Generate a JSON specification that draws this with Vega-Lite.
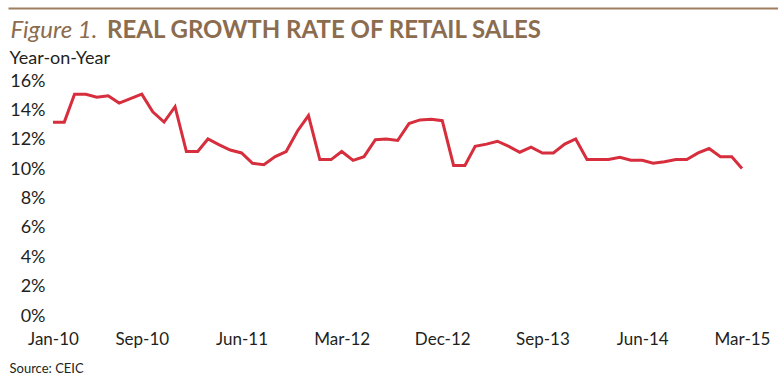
{
  "$schema": "https://vega.github.io/schema/vega-lite/v6.json",
  "width": 770,
  "height": 235,
  "autosize": {"type": "none"},
  "padding": {"left": 8, "top": 81, "right": 0, "bottom": 66},
  "config": {
    "font": "Lato",
    "view": {"stroke": null},
    "axis": {"labelOverlap": false}
  },
  "title": {
    "text": "REAL GROWTH RATE OF RETAIL SALES",
    "anchor": "start",
    "frame": "group",
    "fontSize": 24,
    "fontWeight": "bold",
    "font": "Lato",
    "color": "#8B6C4E",
    "dx": 99,
    "offset": -35
  },
  "datasets": {
    "sales": [
      {"date": "2010-01-01", "value": 13.2},
      {"date": "2010-02-01", "value": 13.2},
      {"date": "2010-03-01", "value": 15.1},
      {"date": "2010-04-01", "value": 15.1},
      {"date": "2010-05-01", "value": 14.9},
      {"date": "2010-06-01", "value": 15.0},
      {"date": "2010-07-01", "value": 14.5},
      {"date": "2010-08-01", "value": 14.8},
      {"date": "2010-09-01", "value": 15.1},
      {"date": "2010-10-01", "value": 13.9},
      {"date": "2010-11-01", "value": 13.2},
      {"date": "2010-12-01", "value": 14.25},
      {"date": "2011-01-01", "value": 11.2},
      {"date": "2011-02-01", "value": 11.2},
      {"date": "2011-03-01", "value": 12.05},
      {"date": "2011-04-01", "value": 11.65},
      {"date": "2011-05-01", "value": 11.3},
      {"date": "2011-06-01", "value": 11.1},
      {"date": "2011-07-01", "value": 10.4},
      {"date": "2011-08-01", "value": 10.3},
      {"date": "2011-09-01", "value": 10.85},
      {"date": "2011-10-01", "value": 11.2},
      {"date": "2011-11-01", "value": 12.6},
      {"date": "2011-12-01", "value": 13.65},
      {"date": "2012-01-01", "value": 10.65},
      {"date": "2012-02-01", "value": 10.65},
      {"date": "2012-03-01", "value": 11.2},
      {"date": "2012-04-01", "value": 10.6},
      {"date": "2012-05-01", "value": 10.85},
      {"date": "2012-06-01", "value": 12.0},
      {"date": "2012-07-01", "value": 12.05},
      {"date": "2012-08-01", "value": 11.95},
      {"date": "2012-09-01", "value": 13.1},
      {"date": "2012-10-01", "value": 13.35},
      {"date": "2012-11-01", "value": 13.4},
      {"date": "2012-12-01", "value": 13.3},
      {"date": "2013-01-01", "value": 10.25},
      {"date": "2013-02-01", "value": 10.25},
      {"date": "2013-03-01", "value": 11.55},
      {"date": "2013-04-01", "value": 11.7},
      {"date": "2013-05-01", "value": 11.9},
      {"date": "2013-06-01", "value": 11.55},
      {"date": "2013-07-01", "value": 11.15},
      {"date": "2013-08-01", "value": 11.5},
      {"date": "2013-09-01", "value": 11.1},
      {"date": "2013-10-01", "value": 11.1},
      {"date": "2013-11-01", "value": 11.7},
      {"date": "2013-12-01", "value": 12.05},
      {"date": "2014-01-01", "value": 10.65},
      {"date": "2014-02-01", "value": 10.65},
      {"date": "2014-03-01", "value": 10.65},
      {"date": "2014-04-01", "value": 10.8},
      {"date": "2014-05-01", "value": 10.6},
      {"date": "2014-06-01", "value": 10.6},
      {"date": "2014-07-01", "value": 10.4},
      {"date": "2014-08-01", "value": 10.5},
      {"date": "2014-09-01", "value": 10.65},
      {"date": "2014-10-01", "value": 10.65},
      {"date": "2014-11-01", "value": 11.1},
      {"date": "2014-12-01", "value": 11.4},
      {"date": "2015-01-01", "value": 10.85},
      {"date": "2015-02-01", "value": 10.85},
      {"date": "2015-03-01", "value": 10.05}
    ]
  },
  "layer": [
    {
      "layer": [
        {
          "data": {"name": "sales"},
          "mark": {"type": "line", "color": "#D62E3C", "strokeWidth": 3, "strokeJoin": "miter"},
          "encoding": {
            "x": {
              "field": "date",
              "type": "temporal",
              "scale": {
                "type": "utc",
                "domain": [
                  {"year": 2009, "month": 8, "date": 31, "utc": true},
                  {"year": 2015, "month": 6, "date": 7, "hours": 12, "utc": true}
                ]
              },
              "axis": {
                "orient": "bottom",
                "values": [
                  {"year": 2010, "month": 1, "date": 1, "utc": true},
                  {"year": 2010, "month": 9, "date": 1, "utc": true},
                  {"year": 2011, "month": 6, "date": 1, "utc": true},
                  {"year": 2012, "month": 3, "date": 1, "utc": true},
                  {"year": 2012, "month": 12, "date": 1, "utc": true},
                  {"year": 2013, "month": 9, "date": 1, "utc": true},
                  {"year": 2014, "month": 6, "date": 1, "utc": true},
                  {"year": 2015, "month": 3, "date": 1, "utc": true}
                ],
                "tickCount": 20,
                "format": "%b-%y",
                "domain": false,
                "ticks": false,
                "grid": false,
                "labelFontSize": 17,
                "labelColor": "#231F20",
                "labelPadding": 15,
                "labelFlush": false,
                "labelOverlap": false,
                "title": "Source: CEIC",
                "titleFontSize": 13,
                "titleFontWeight": "normal",
                "titleColor": "#231F20",
                "titleAnchor": "start",
                "titleAlign": "left",
                "titleBaseline": "alphabetic",
                "titleX": 1,
                "titleY": 56
              }
            },
            "y": {
              "field": "value",
              "type": "quantitative",
              "scale": {"domain": [0, 16], "nice": false, "zero": true},
              "axis": {
                "values": [0, 2, 4, 6, 8, 10, 12, 14, 16],
                "tickCount": 20,
                "labelExpr": "datum.value + '%'",
                "labelOverlap": false,
                "offset": -45,
                "domain": false,
                "ticks": false,
                "grid": false,
                "labelFontSize": 18,
                "labelColor": "#231F20",
                "labelPadding": 8,
                "title": "Year-on-Year",
                "titleAngle": 0,
                "titleAlign": "left",
                "titleBaseline": "alphabetic",
                "titleFontSize": 18,
                "titleFontWeight": "normal",
                "titleColor": "#231F20",
                "titleX": -44,
                "titleY": -18
              }
            }
          }
        },
        {
          "mark": {"type": "rule", "color": "#BFBFBF", "strokeWidth": 2},
          "encoding": {
            "x": {"datum": {"year": 2010, "month": 1, "date": 1, "utc": true}, "type": "temporal"},
            "x2": {"datum": {"year": 2015, "month": 4, "date": 19, "utc": true}},
            "y": {"datum": 0, "type": "quantitative"}
          }
        }
      ]
    },
    {
      "data": {"name": "sales"},
      "mark": {"type": "rule", "opacity": 0},
      "encoding": {
        "x": {
          "field": "date",
          "type": "temporal",
          "scale": {
            "type": "utc",
            "domain": [
              {"year": 2009, "month": 8, "date": 31, "utc": true},
              {"year": 2015, "month": 6, "date": 7, "hours": 12, "utc": true}
            ]
          },
          "axis": {
            "orient": "top",
            "labels": false,
            "ticks": false,
            "grid": false,
            "domain": true,
            "domainColor": "#9E7E5E",
            "domainWidth": 2,
            "offset": 73,
            "title": "Figure 1.",
            "titleFont": "Lato",
            "titleFontSize": 24,
            "titleFontStyle": "italic",
            "titleFontWeight": "normal",
            "titleColor": "#8B6C4E",
            "titleAnchor": "start",
            "titleAlign": "left",
            "titleBaseline": "alphabetic",
            "titleX": 2,
            "titleY": 29
          }
        }
      }
    }
  ],
  "resolve": {"scale": {"x": "independent"}}
}
